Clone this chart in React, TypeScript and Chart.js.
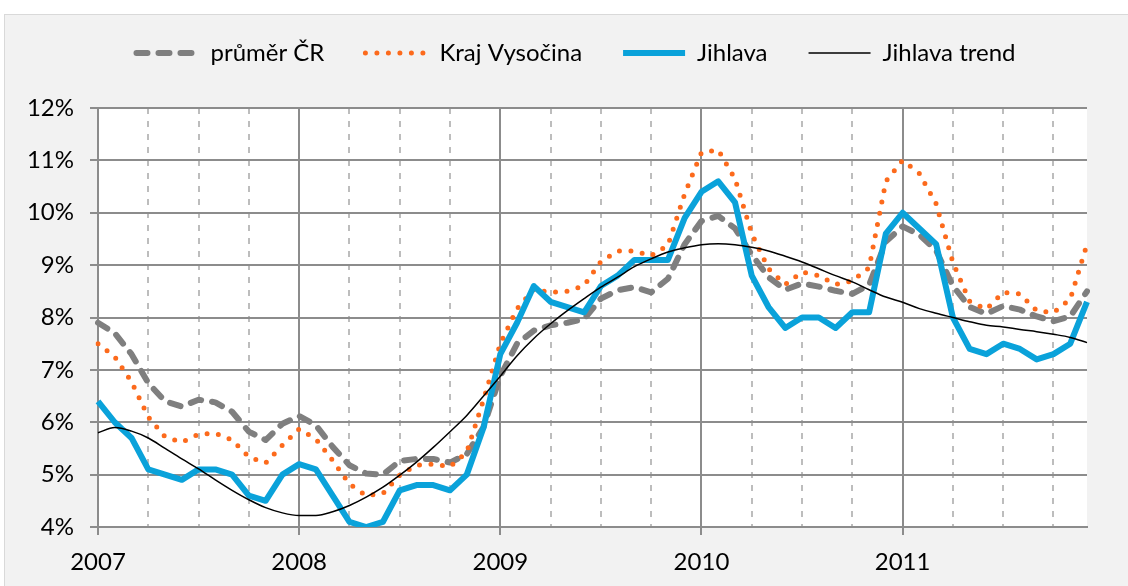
import React, { useEffect, useRef } from "react";
import { Chart, registerables } from "chart.js";

Chart.register(...registerables);

const yearTicks = ["2007", "2008", "2009", "2010", "2011"];
const monthNames = ["01", "02", "03", "04", "05", "06", "07", "08", "09", "10", "11", "12"];
const months = yearTicks.flatMap((y) => monthNames.map((m) => `${y}-${m}`));

const prumerCR = [
  7.9, 7.7, 7.3, 6.75, 6.4, 6.3, 6.43, 6.38, 6.2, 5.82, 5.66, 5.97,
  6.12, 5.94, 5.53, 5.18, 5.02, 5.0, 5.26, 5.3, 5.3, 5.23, 5.39, 5.91,
  6.88, 7.5, 7.75, 7.85, 7.9, 7.97, 8.36, 8.52, 8.58, 8.48, 8.74, 9.4,
  9.84, 9.94, 9.7, 9.2, 8.77, 8.53, 8.65, 8.59, 8.51, 8.45, 8.62, 9.45,
  9.74, 9.58, 9.28, 8.6, 8.2, 8.07, 8.22, 8.15, 8.02, 7.93, 8.02, 8.5,
];

const krajVysocina = [
  7.5, 7.25, 6.77, 6.1, 5.72, 5.62, 5.77, 5.79, 5.66, 5.34, 5.22, 5.56,
  5.87, 5.68, 5.27, 4.82, 4.6, 4.64, 4.99, 5.18, 5.2, 5.15, 5.43, 6.43,
  7.5, 8.17, 8.54, 8.48, 8.5, 8.61, 9.07, 9.27, 9.27, 9.18, 9.38, 10.36,
  11.15, 11.2, 10.65, 9.6, 8.93, 8.63, 8.87, 8.8, 8.63, 8.7, 8.95, 10.6,
  11.0, 10.75, 10.17, 9.05, 8.31, 8.16, 8.48, 8.45, 8.13, 8.09, 8.35, 9.4,
];

const jihlava = [
  6.4, 6.0, 5.7, 5.1, 5.0, 4.9, 5.1, 5.1, 5.0, 4.6, 4.5, 5.0,
  5.2, 5.1, 4.6, 4.1, 4.0, 4.1, 4.7, 4.8, 4.8, 4.7, 5.0, 5.9,
  7.3, 7.9, 8.6, 8.3, 8.2, 8.1, 8.6, 8.8, 9.1, 9.1, 9.1, 9.9,
  10.4, 10.6, 10.2, 8.8, 8.2, 7.8, 8.0, 8.0, 7.8, 8.1, 8.1, 9.6,
  10.0, 9.7, 9.4, 8.0, 7.4, 7.3, 7.5, 7.4, 7.2, 7.3, 7.5, 8.3,
];

const jihlavaTrend = [
  5.8, 5.9, 5.83, 5.7, 5.5, 5.3, 5.11, 4.9, 4.7, 4.52, 4.37, 4.27,
  4.22, 4.22, 4.29, 4.41, 4.57, 4.76, 4.99, 5.24, 5.52, 5.82, 6.13, 6.5,
  6.88, 7.27, 7.6, 7.88, 8.13, 8.36, 8.58, 8.77, 8.97, 9.12, 9.25, 9.33,
  9.39, 9.41, 9.39, 9.34, 9.27, 9.17, 9.06, 8.93, 8.8, 8.68, 8.53, 8.39,
  8.29, 8.17, 8.08, 8.0, 7.92, 7.85, 7.82, 7.77, 7.73, 7.68, 7.62, 7.52,
];

const seriesLabels = ["průměr ČR", "Kraj Vysočina", "Jihlava", "Jihlava trend"];

const FONT = "Lato, 'Noto Sans', sans-serif";
const FONT_SIZE = 24;
const GRID = "#8c8c8c";
const GRID_DASH = "#bdbdbd";
const PAD_LEFT = 24;

const bgPlugin = {
  id: "bgPlugin",
  beforeDraw(chart: any) {
    const { ctx, width, height, chartArea } = chart;
    ctx.save();
    ctx.fillStyle = "#ffffff";
    ctx.fillRect(0, 0, width, height);
    ctx.fillStyle = "#f2f2f2";
    ctx.fillRect(4, 14, width - 4, height - 14);
    ctx.strokeStyle = "#d9d9d9";
    ctx.lineWidth = 1;
    ctx.strokeRect(4.5, 14.5, width + 10, height + 10);
    ctx.fillStyle = "#ffffff";
    ctx.fillRect(chartArea.left, chartArea.top, chartArea.right - chartArea.left, chartArea.bottom - chartArea.top);
    ctx.restore();
  },
};

export default function App() {
  const canvasRef = useRef<HTMLCanvasElement | null>(null);

  useEffect(() => {
    if (!canvasRef.current) return;
    const chart = new Chart(canvasRef.current, {
      type: "line",
      data: {
        labels: months,
        datasets: [
          {
            label: seriesLabels[0],
            data: prumerCR,
            borderColor: "#7f7f7f",
            backgroundColor: "#7f7f7f",
            borderWidth: 6,
            borderDash: [11, 11],
            borderCapStyle: "round",
            borderJoinStyle: "round",
            pointRadius: 0,
            order: 4,
          },
          {
            label: seriesLabels[1],
            data: krajVysocina,
            borderColor: "#fc6a1c",
            backgroundColor: "#fc6a1c",
            borderWidth: 5,
            borderDash: [0, 11.5],
            borderCapStyle: "round",
            borderJoinStyle: "round",
            pointRadius: 0,
            order: 3,
          },
          {
            label: seriesLabels[2],
            data: jihlava,
            borderColor: "#0aa2da",
            backgroundColor: "#0aa2da",
            borderWidth: 6,
            borderCapStyle: "butt",
            borderJoinStyle: "round",
            pointRadius: 0,
            order: 2,
          },
          {
            label: seriesLabels[3],
            data: jihlavaTrend,
            borderColor: "#000000",
            backgroundColor: "#000000",
            borderWidth: 1.5,
            cubicInterpolationMode: "monotone",
            pointRadius: 0,
            order: 1,
          },
        ],
      },
      options: {
        responsive: false,
        animation: false,
        layout: { padding: { top: 0, left: PAD_LEFT, right: 0, bottom: 0 } },
        plugins: {
          tooltip: { enabled: false },
          legend: {
            display: true,
            position: "top",
            align: "center",
            fullSize: true,
            labels: {
              usePointStyle: true,
              pointStyleWidth: 62,
              padding: 41,
              color: "#000000",
              font: { family: FONT, size: FONT_SIZE },
              sort: (a: any, b: any) => a.datasetIndex - b.datasetIndex,
              generateLabels: (chart: any) =>
                chart.data.datasets.map((ds: any, i: number) => ({
                  text: ds.label,
                  datasetIndex: i,
                  strokeStyle: ds.borderColor,
                  fillStyle: ds.borderColor,
                  lineWidth: ds.borderWidth,
                  lineDash: ds.borderDash || [],
                  lineCap: ds.borderCapStyle || "butt",
                  pointStyle: "line",
                  hidden: false,
                  fontColor: "#000000",
                })),
            },
          },
          title: {
            display: true,
            text: "",
            position: "top",
            weight: 500,
            padding: 0,
            font: { size: 33, lineHeight: 1 },
          },
        },
        scales: {
          x: {
            type: "category",
            offset: false,
            afterFit: (s: any) => {
              s.height = 59;
            },
            grid: {
              offset: false,
              drawOnChartArea: true,
              color: (c: any) => {
                const i = c.index;
                if (i === undefined) return GRID;
                if (i === months.length - 1) return "rgba(0,0,0,0)";
                if (i % 12 === 0) return GRID;
                if (i % 3 === 0) return GRID_DASH;
                return "rgba(0,0,0,0)";
              },
              lineWidth: 2,
              tickLength: 8,
              tickColor: (c: any) => (c.index !== undefined && c.index % 12 === 0 ? GRID : "rgba(0,0,0,0)"),
            },
            border: {
              display: true,
              color: GRID,
              width: 2,
              dash: (c: any) => (c.index !== undefined && c.index % 12 !== 0 ? [6, 7] : []),
            },
            ticks: {
              autoSkip: false,
              maxRotation: 0,
              minRotation: 0,
              padding: 13,
              color: "#000000",
              font: { family: FONT, size: FONT_SIZE },
              callback: (_v: any, idx: number) => (idx % 12 === 0 ? yearTicks[idx / 12] : ""),
            },
          },
          y: {
            type: "linear",
            position: "left",
            min: 4,
            max: 12,
            afterFit: (s: any) => {
              s.width = 98 - PAD_LEFT;
            },
            grid: {
              color: GRID,
              lineWidth: 2,
              tickLength: 8,
              tickColor: GRID,
            },
            border: { display: true, color: GRID, width: 2 },
            ticks: {
              stepSize: 1,
              padding: 16,
              color: "#000000",
              font: { family: FONT, size: FONT_SIZE },
              callback: (v: any) => `${v}%`,
            },
          },
          yR: {
            type: "linear",
            position: "right",
            display: true,
            afterFit: (s: any) => {
              s.width = 41;
            },
            grid: { display: false, drawTicks: false },
            border: { display: false },
            ticks: { display: false },
          },
        },
      },
      plugins: [bgPlugin],
    });
    return () => chart.destroy();
  }, []);

  return (
    <div style={{ position: "absolute", left: 0, top: 0, width: 1128, height: 586 }}>
      <canvas ref={canvasRef} width={1128} height={586} style={{ display: "block" }} />
    </div>
  );
}
